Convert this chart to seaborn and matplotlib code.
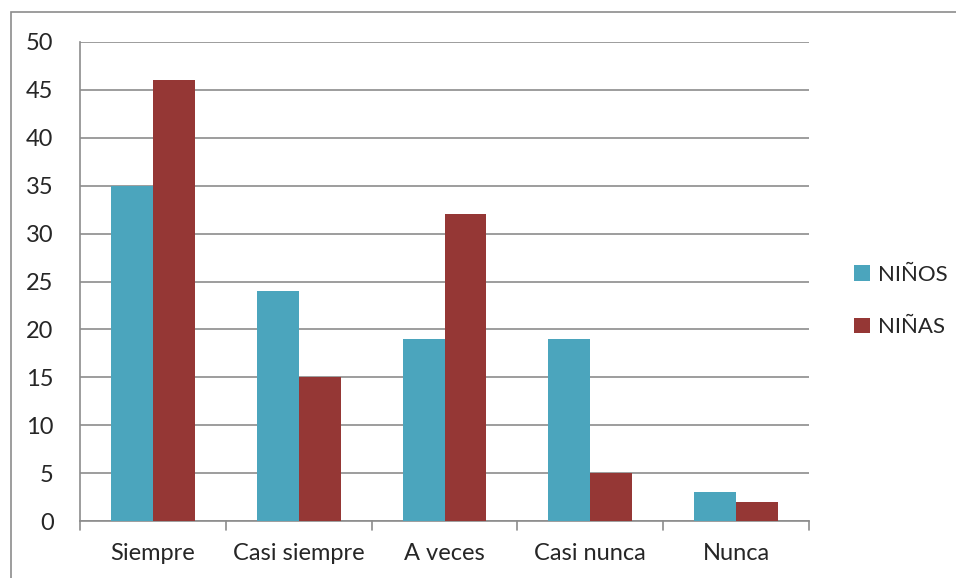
import matplotlib
matplotlib.use("Agg")
import matplotlib.pyplot as plt
import seaborn as sns
import pandas as pd
from matplotlib.patches import Rectangle, Patch

categories = ["Siempre", "Casi siempre", "A veces", "Casi nunca", "Nunca"]
ninos = [35, 24, 19, 19, 3]
ninas = [46, 15, 32, 5, 2]
series = ["NIÑOS", "NIÑAS"]
colors = ["#4BA5BD", "#953735"]
yticks = [0, 5, 10, 15, 20, 25, 30, 35, 40, 45, 50]

df = pd.DataFrame({
    "cat": categories * 2,
    "val": ninos + ninas,
    "serie": [series[0]] * len(categories) + [series[1]] * len(categories),
})

sns.set_style("white")
plt.rcParams["font.family"] = ["Lato", "DejaVu Sans"]

fig = plt.figure(figsize=(9.56, 5.78), dpi=100)
ax = fig.add_axes([80 / 956, 57 / 578, (809 - 80) / 956, (521 - 42) / 578])

sns.barplot(data=df, x="cat", y="val", hue="serie", palette=colors,
            width=0.575, gap=0, ax=ax, legend=False, saturation=1,
            edgecolor="none", linewidth=0, zorder=3)

ax.set_ylim(0, 50)
ax.set_xlim(-0.5, len(categories) - 0.5)
ax.set_yticks(yticks)
ax.set_yticklabels([str(t) for t in yticks], fontsize=17)
ax.yaxis.grid(True, color="#8c8c8c", linewidth=1.2, zorder=0)
ax.set_axisbelow(True)
ax.set_xlabel("")
ax.set_ylabel("")
ax.tick_params(axis="y", length=6, width=1.2, color="#8c8c8c", pad=13)
ax.set_xticks(range(len(categories)))
ax.set_xticklabels(categories, fontsize=17)
ax.tick_params(axis="x", length=0, pad=16)
# boundary ticks on x axis
for b in [i - 0.5 for i in range(len(categories) + 1)]:
    ax.plot([b, b], [0, -0.018], transform=ax.get_xaxis_transform(),
            color="#8c8c8c", linewidth=1.2, clip_on=False)

for s in ["top", "right"]:
    ax.spines[s].set_visible(False)
for s in ["left", "bottom"]:
    ax.spines[s].set_color("#8c8c8c")
    ax.spines[s].set_linewidth(1.2)

handles = [Patch(facecolor=c, edgecolor="none") for c in colors]
fig.legend(handles, series, loc="center left",
           bbox_to_anchor=(834 / 956, 1 - 301 / 578), frameon=False,
           fontsize=16, handlelength=0.7, handleheight=0.7,
           handletextpad=0.4, labelspacing=1.45)

fig.patches.append(Rectangle((11 / 956, -0.1), 2, (578 - 12.5) / 578 + 0.1,
                             transform=fig.transFigure, fill=False,
                             edgecolor="#8c8c8c", linewidth=1.2))

fig.savefig("out.png", dpi=100, facecolor="white")
